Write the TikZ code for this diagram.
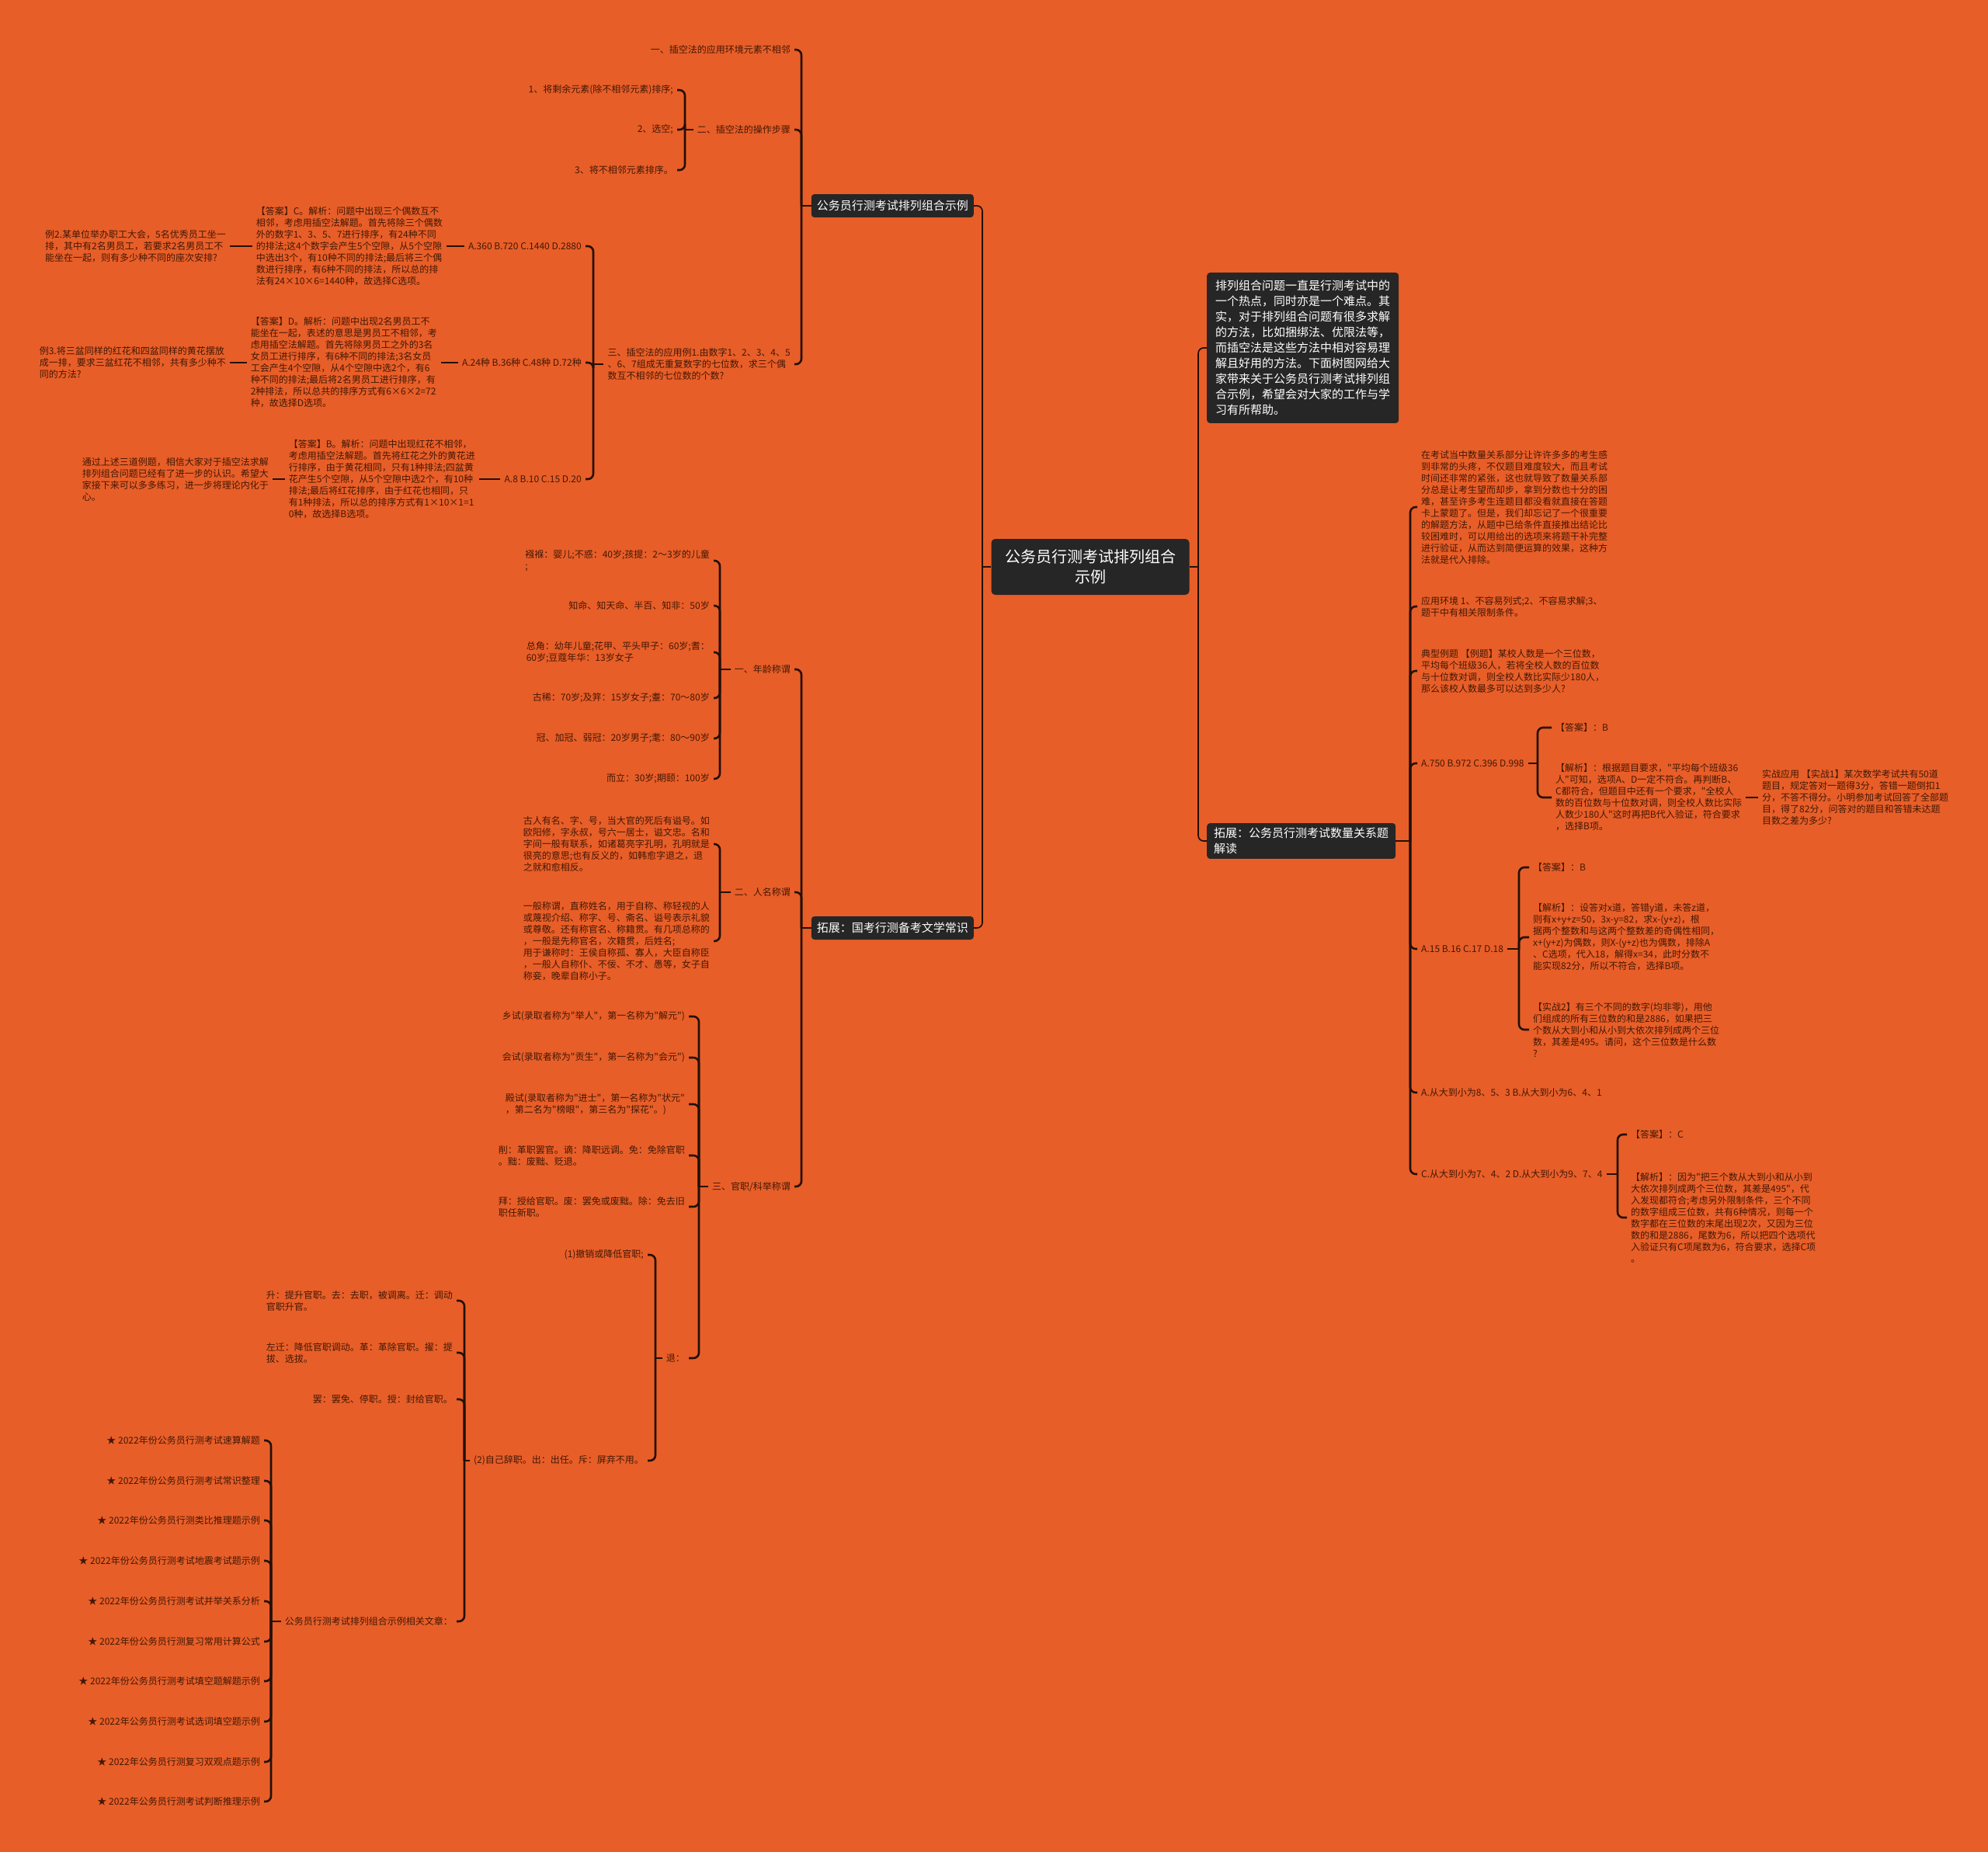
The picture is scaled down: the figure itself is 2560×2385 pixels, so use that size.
\documentclass[tikz,border=0pt]{standalone}
\usepackage{fontspec}
\setmainfont{Noto Sans CJK SC}
\newfontfamily\cjkf{Noto Sans CJK SC}
\definecolor{bg}{RGB}{232,94,40}
\definecolor{ln}{RGB}{34,16,8}
\definecolor{tx}{RGB}{66,24,6}
\definecolor{bx}{RGB}{38,38,38}
\newcommand\brL[4][conn]{%
  \coordinate (tmpx) at (#3,0);
  \draw[#1] (#2.west) -- (#2.west -| tmpx) coordinate (#2j);
  \foreach \nn in {#4}{\draw[#1,rounded corners=7pt] (#2j) |- (\nn.east);}%
}
\newcommand\brR[4][conn]{%
  \coordinate (tmpx) at (#3,0);
  \draw[#1] (#2.east) -- (#2.east -| tmpx) coordinate (#2j);
  \foreach \nn in {#4}{\draw[#1,rounded corners=7pt] (#2j) |- (\nn.west);}%
}
\begin{document}
\begin{tikzpicture}[x=1pt,y=-1pt,
  t/.style={text=tx,font=\cjkf\fontsize{12}{15}\selectfont,align=left,inner xsep=5pt,inner ysep=2pt},
  lt/.style={t,anchor=east},
  rt/.style={t,anchor=west},
  dbox/.style={fill=bx,text=white,rounded corners=4pt,font=\cjkf\fontsize{15}{20}\selectfont,align=left,inner xsep=7pt,inner ysep=8pt},
  rootbox/.style={fill=bx,text=white,rounded corners=5pt,font=\cjkf\fontsize{20}{26}\selectfont,align=center,minimum width=255pt,minimum height=72pt},
  conn/.style={draw=ln,line width=2.6pt},
  mconn/.style={draw=ln,line width=1.7pt}]
\fill[bg] (0,0) rectangle (2560,2385);
\useasboundingbox (0,0) rectangle (2560,2385);

% root and main branches
\node[rootbox] (root) at (1404,730) {公务员行测考试排列组合\\示例};
\node[dbox,anchor=east] (b1) at (1254,265) {公务员行测考试排列组合示例};
\node[dbox,anchor=east] (b2) at (1254,1195) {拓展：国考行测备考文学常识};
\node[dbox,anchor=west,inner xsep=11pt,inner ysep=10pt] (A) at (1554,448) {排列组合问题一直是行测考试中的\\一个热点，同时亦是一个难点。其\\实，对于排列组合问题有很多求解\\的方法，比如捆绑法、优限法等，\\而插空法是这些方法中相对容易理\\解且好用的方法。下面树图网给大\\家带来关于公务员行测考试排列组\\合示例，希望会对大家的工作与学\\习有所帮助。};
\node[dbox,anchor=west,inner ysep=6pt,inner xsep=9pt] (B) at (1554,1083) {拓展：公务员行测考试数量关系题\\解读};
\brL[mconn]{root}{1265}{b1,b2}
\brR[mconn]{root}{1543}{A,B}

% top branch
\node[lt] (c1) at (1023,64) {一、插空法的应用环境元素不相邻};
\node[lt] (c2) at (1023,167) {二、插空法的操作步骤};
\node[lt] (c3) at (1023,469) {三、插空法的应用例1.由数字1、2、3、4、5\\、6、7组成无重复数字的七位数，求三个偶\\数互不相邻的七位数的个数?};
\brL{b1}{1032}{c1,c2,c3}
\node[lt] (s1) at (872,116) {1、将剩余元素(除不相邻元素)排序;};
\node[lt] (s2) at (872,167) {2、选空;};
\node[lt] (s3) at (872,219) {3、将不相邻元素排序。};
\brL{c2}{882}{s1,s2,s3}
\node[lt] (q1) at (754,317) {A.360 B.720 C.1440 D.2880};
\node[lt] (q2) at (754,467) {A.24种 B.36种 C.48种 D.72种};
\node[lt] (q3) at (754,617) {A.8 B.10 C.15 D.20};
\brL{c3}{764}{q1,q2,q3}
\node[lt] (a1) at (575,317) {【答案】C。解析：问题中出现三个偶数互不\\相邻，考虑用插空法解题。首先将除三个偶数\\外的数字1、3、5、7进行排序，有24种不同\\的排法;这4个数字会产生5个空隙，从5个空隙\\中选出3个，有10种不同的排法;最后将三个偶\\数进行排序，有6种不同的排法，所以总的排\\法有24×10×6=1440种，故选择C选项。};
\node[lt] (e2) at (296,317) {例2.某单位举办职工大会，5名优秀员工坐一\\排，其中有2名男员工，若要求2名男员工不\\能坐在一起，则有多少种不同的座次安排?};
\node[lt] (a2) at (568,467) {【答案】D。解析：问题中出现2名男员工不\\能坐在一起，表述的意思是男员工不相邻，考\\虑用插空法解题。首先将除男员工之外的3名\\女员工进行排序，有6种不同的排法;3名女员\\工会产生4个空隙，从4个空隙中选2个，有6\\种不同的排法;最后将2名男员工进行排序，有\\2种排法，所以总共的排序方式有6×6×2=72\\种，故选择D选项。};
\node[lt] (e3) at (296,467) {例3.将三盆同样的红花和四盆同样的黄花摆放\\成一排，要求三盆红花不相邻，共有多少种不\\同的方法?};
\node[lt] (a3) at (617,617) {【答案】B。解析：问题中出现红花不相邻，\\考虑用插空法解题。首先将红花之外的黄花进\\行排序，由于黄花相同，只有1种排法;四盆黄\\花产生5个空隙，从5个空隙中选2个，有10种\\排法;最后将红花排序，由于红花也相同，只\\有1种排法，所以总的排序方式有1×10×1=1\\0种，故选择B选项。};
\node[lt] (e4) at (351,617) {通过上述三道例题，相信大家对于插空法求解\\排列组合问题已经有了进一步的认识。希望大\\家接下来可以多多练习，进一步将理论内化于\\心。};
\draw[conn] (q1.west) -- (a1.east);
\draw[conn] (a1.west) -- (e2.east);
\draw[conn] (q2.west) -- (a2.east);
\draw[conn] (a2.west) -- (e3.east);
\draw[conn] (q3.west) -- (a3.east);
\draw[conn] (a3.west) -- (e4.east);

% middle branch
\node[lt] (m1) at (1023,862) {一、年龄称谓};
\node[lt] (m2) at (1023,1149) {二、人名称谓};
\node[lt] (m3) at (1023,1528) {三、官职/科举称谓};
\brL{b2}{1032}{m1,m2,m3}
\node[lt] (n1) at (919,722) {襁褓：婴儿;不惑：40岁;孩提：2～3岁的儿童\\;};
\node[lt] (n2) at (919,780) {知命、知天命、半百、知非：50岁};
\node[lt] (n3) at (919,840) {总角：幼年儿童;花甲、平头甲子：60岁;耆：\\60岁;豆蔻年华：13岁女子};
\node[lt] (n4) at (919,899) {古稀：70岁;及笄：15岁女子;耋：70～80岁};
\node[lt] (n5) at (919,951) {冠、加冠、弱冠：20岁男子;耄：80～90岁};
\node[lt] (n6) at (919,1003) {而立：30岁;期颐：100岁};
\brL{m1}{927}{n1,n2,n3,n4,n5,n6}
\node[lt] (p1) at (919,1087) {古人有名、字、号，当大官的死后有谥号。如\\欧阳修，字永叔，号六一居士，谥文忠。名和\\字间一般有联系，如诸葛亮字孔明，孔明就是\\很亮的意思;也有反义的，如韩愈字退之，退\\之就和愈相反。};
\node[lt] (p2) at (919,1212) {一般称谓，直称姓名，用于自称、称轻视的人\\或蔑视介绍、称字、号、斋名、谥号表示礼貌\\或尊敬。还有称官名、称籍贯。有几项总称的\\，一般是先称官名，次籍贯，后姓名;\\用于谦称时：王侯自称孤、寡人，大臣自称臣\\，一般人自称仆、不佞、不才、愚等，女子自\\称妾，晚辈自称小子。};
\brL{m2}{927}{p1,p2}
\node[lt] (k1) at (887,1309) {乡试(录取者称为"举人"，第一名称为"解元")};
\node[lt] (k2) at (887,1362) {会试(录取者称为"贡生"，第一名称为"会元")};
\node[lt] (k3) at (887,1422) {殿试(录取者称为"进士"，第一名称为"状元"\\，第二名为"榜眼"，第三名为"探花"。)};
\node[lt] (k4) at (887,1488) {削：革职罢官。谪：降职远调。免：免除官职\\。黜：废黜、贬退。};
\node[lt] (k5) at (887,1554) {拜：授给官职。废：罢免或废黜。除：免去旧\\职任新职。};
\node[lt] (k6) at (887,1749) {退：};
\brL{m3}{900}{k1,k2,k3,k4,k5,k6}
\node[lt] (w1) at (834,1616) {(1)撤销或降低官职;};
\node[lt] (w2) at (834,1881) {(2)自己辞职。出：出任。斥：屏弃不用。};
\brL{k6}{844}{w1,w2}
\node[lt] (v1) at (588,1675) {升：提升官职。去：去职，被调离。迁：调动\\官职升官。};
\node[lt] (v2) at (588,1742) {左迁：降低官职调动。革：革除官职。擢：提\\拔、选拔。};
\node[lt] (v3) at (588,1802) {罢：罢免、停职。授：封给官职。};
\node[lt] (v4) at (588,2088) {公务员行测考试排列组合示例相关文章：};
\brL{w2}{598}{v1,v2,v3,v4}
\node[lt] (L1) at (340,1855) {★ 2022年份公务员行测考试速算解题};
\node[lt] (L2) at (340,1907) {★ 2022年份公务员行测考试常识整理};
\node[lt] (L3) at (340,1958) {★ 2022年份公务员行测类比推理题示例};
\node[lt] (L4) at (340,2010) {★ 2022年份公务员行测考试地震考试题示例};
\node[lt] (L5) at (340,2062) {★ 2022年份公务员行测考试并举关系分析};
\node[lt] (L6) at (340,2114) {★ 2022年份公务员行测复习常用计算公式};
\node[lt] (L7) at (340,2165) {★ 2022年份公务员行测考试填空题解题示例};
\node[lt] (L8) at (340,2217) {★ 2022年公务员行测考试选词填空题示例};
\node[lt] (L9) at (340,2269) {★ 2022年公务员行测复习双观点题示例};
\node[lt] (L10) at (340,2320) {★ 2022年公务员行测考试判断推理示例};
\brL{v4}{349}{L1,L2,L3,L4,L5,L6,L7,L8,L9,L10}

% right branch
\node[rt] (r1) at (1825,653) {在考试当中数量关系部分让许许多多的考生感\\到非常的头疼，不仅题目难度较大，而且考试\\时间还非常的紧张，这也就导致了数量关系部\\分总是让考生望而却步，拿到分数也十分的困\\难，甚至许多考生连题目都没看就直接在答题\\卡上蒙题了。但是，我们却忘记了一个很重要\\的解题方法，从题中已给条件直接推出结论比\\较困难时，可以用给出的选项来将题干补完整\\进行验证，从而达到简便运算的效果，这种方\\法就是代入排除。};
\node[rt] (r2) at (1825,781) {应用环境 1、不容易列式;2、不容易求解;3、\\题干中有相关限制条件。};
\node[rt] (r3) at (1825,864) {典型例题 【例题】某校人数是一个三位数，\\平均每个班级36人，若将全校人数的百位数\\与十位数对调，则全校人数比实际少180人，\\那么该校人数最多可以达到多少人?};
\node[rt] (r4) at (1825,983) {A.750 B.972 C.396 D.998};
\node[rt] (r5) at (1825,1222) {A.15 B.16 C.17 D.18};
\node[rt] (r6) at (1825,1407) {A.从大到小为8、5、3 B.从大到小为6、4、1};
\node[rt] (r7) at (1825,1512) {C.从大到小为7、4、2 D.从大到小为9、7、4};
\brR{B}{1816}{r1,r2,r3,r4,r5,r6,r7}
\node[rt] (x1) at (1998,937) {【答案】：B};
\node[rt] (x2) at (1998,1027) {【解析】：根据题目要求，"平均每个班级36\\人"可知，选项A、D一定不符合。再判断B、\\C都符合，但题目中还有一个要求，"全校人\\数的百位数与十位数对调，则全校人数比实际\\人数少180人"这时再把B代入验证，符合要求\\，选择B项。};
\node[rt] (x3) at (2264,1027) {实战应用 【实战1】某次数学考试共有50道\\题目，规定答对一题得3分，答错一题倒扣1\\分，不答不得分。小明参加考试回答了全部题\\目，得了82分，问答对的题目和答错未达题\\目数之差为多少?};
\brR{r4}{1980}{x1,x2}
\draw[conn] (x2.east) -- (x3.west);
\node[rt] (y1) at (1969,1117) {【答案】：B};
\node[rt] (y2) at (1969,1207) {【解析】：设答对x道，答错y道，未答z道，\\则有x+y+z=50，3x-y=82，求x-(y+z)，根\\据两个整数和与这两个整数差的奇偶性相同，\\x+(y+z)为偶数，则X-(y+z)也为偶数，排除A\\、C选项，代入18，解得x=34，此时分数不\\能实现82分，所以不符合，选择B项。};
\node[rt] (y3) at (1969,1326) {【实战2】有三个不同的数字(均非零)，用他\\们组成的所有三位数的和是2886，如果把三\\个数从大到小和从小到大依次排列成两个三位\\数，其差是495。请问，这个三位数是什么数\\?};
\brR{r5}{1956}{y1,y2,y3}
\node[rt] (z1) at (2095,1461) {【答案】：C};
\node[rt] (z2) at (2095,1568) {【解析】：因为"把三个数从大到小和从小到\\大依次排列成两个三位数，其差是495"，代\\入发现都符合;考虑另外限制条件，三个不同\\的数字组成三位数，共有6种情况，则每一个\\数字都在三位数的末尾出现2次，又因为三位\\数的和是2886，尾数为6，所以把四个选项代\\入验证只有C项尾数为6，符合要求，选择C项\\。};
\brR{r7}{2083}{z1,z2}
\end{tikzpicture}
\end{document}
